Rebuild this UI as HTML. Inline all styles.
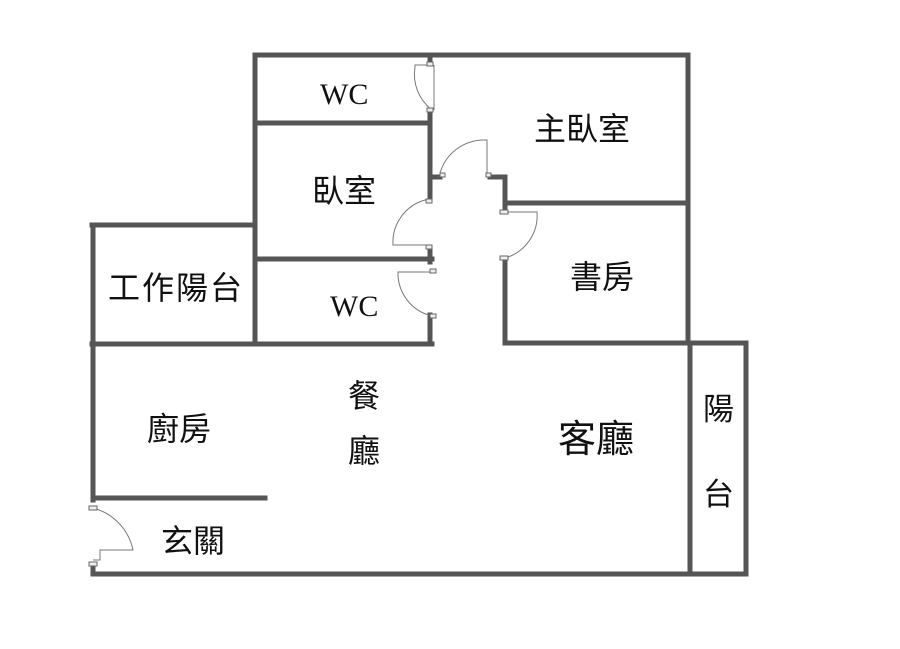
<!DOCTYPE html>
<html><head><meta charset="utf-8"><style>
html,body{margin:0;padding:0;background:#fff;}
svg{display:block}
text{font-family:"Liberation Sans","Noto Sans CJK TC",sans-serif;fill:#111;}
text.s{font-family:"Liberation Serif",serif;}
.w{stroke:#555;stroke-width:5;fill:none;stroke-linecap:square}
.d{stroke:#777;stroke-width:1;fill:none}
.p{fill:#eee;stroke:#666;stroke-width:1}
</style></head><body>
<svg width="900" height="649" viewBox="0 0 900 649" xmlns="http://www.w3.org/2000/svg">
<path class="w" d="M255 55 H688 V343"/>
<path class="w" d="M255 55 V343"/>
<path class="w" d="M255 123 H430"/>
<path class="w" d="M260 259 H432"/>
<path class="w" d="M92 344 H432"/>
<path class="w" d="M92 225 H255"/>
<path class="w" d="M93 225 V500"/>
<path class="w" d="M93 498 H265"/>
<path class="w" d="M93 565 V574 H690"/>
<path class="w" d="M430 55 V63"/>
<path class="w" d="M430 110 V200"/>
<path class="w" d="M430 247 V262"/>
<path class="w" d="M430 315 V344"/>
<path class="w" d="M432 177 H440"/>
<path class="w" d="M490 177 H505 V203 H688"/>
<path class="w" d="M505 258 V343 H690"/>
<path class="w" d="M505 203 V212"/>
<path class="w" d="M690 343 V574"/>
<path class="w" d="M690 343 H746 V574 H690"/>
<g class="d">
<path d="M432 65 H415 V67 A45 45 0 0 0 432 110"/><line x1="434" y1="65" x2="434" y2="110"/>
<path d="M440 176 V173 A46 46 0 0 1 485 140 H487 V176"/>
<path d="M428 202 V200 H425 A44 44 0 0 0 393 245 H428"/>
<path d="M432 272 H398 A44 44 0 0 0 432 316"/>
<path d="M507 212 H537 A44 44 0 0 1 505 258"/>
<path d="M93 508 A55 55 0 0 1 133 550 H100 V560 H93"/>
</g>
<rect class="p" x="427" y="62" width="6" height="4"/><rect class="p" x="427" y="108" width="6" height="4"/>
<rect class="p" x="440" y="173" width="5" height="4"/><rect class="p" x="486" y="173" width="5" height="4"/>
<rect class="p" x="426" y="199" width="6" height="4"/><rect class="p" x="426" y="245" width="6" height="4"/>
<rect class="p" x="430" y="269" width="6" height="4"/><rect class="p" x="430" y="314" width="6" height="4"/>
<rect class="p" x="500" y="210" width="8" height="4"/><rect class="p" x="500" y="256" width="8" height="4"/>
<rect class="p" x="89" y="506" width="8" height="4"/><rect class="p" x="89" y="562" width="8" height="4"/>
<text class="s" x="320" y="104" font-size="30">WC</text>
<text class="s" x="330" y="316" font-size="30">WC</text>
<text x="312" y="202" font-size="32">臥室</text>
<text x="534" y="140" font-size="32">主臥室</text>
<text x="570" y="288" font-size="32">書房</text>
<text x="108" y="299" font-size="32" letter-spacing="2">工作陽台</text>
<text x="147" y="440" font-size="32">廚房</text>
<text x="348" y="407" font-size="32">餐</text>
<text x="348" y="462" font-size="32">廳</text>
<text x="558" y="452" font-size="38">客廳</text>
<text x="161" y="552" font-size="32">玄關</text>
<text x="703" y="420" font-size="31">陽</text>
<text x="703" y="505" font-size="31">台</text>
</svg>
</body></html>
